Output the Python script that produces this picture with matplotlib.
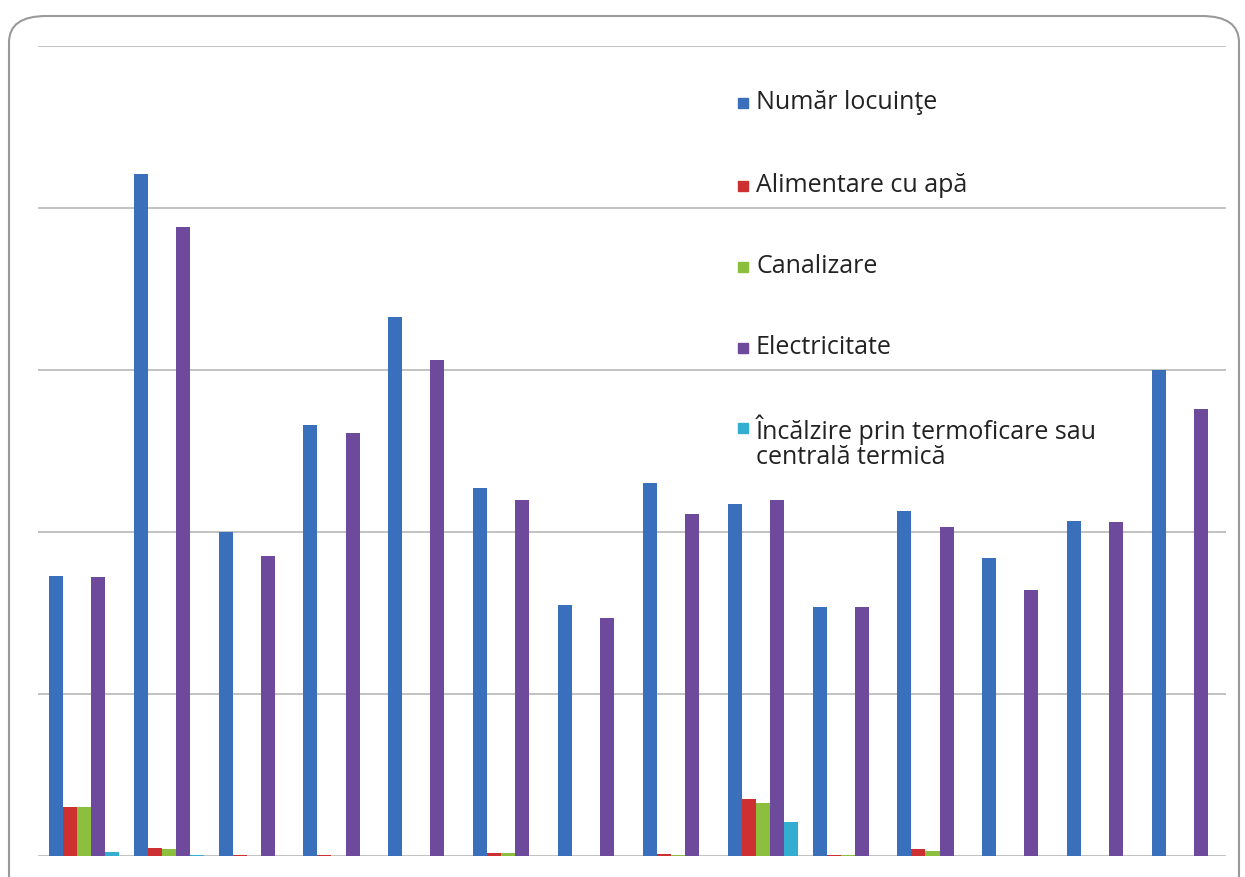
import numpy as np
import matplotlib.pyplot as plt
from matplotlib.patches import FancyBboxPatch, Rectangle

# ----- Data (gridline step = 100) -----
groups = np.arange(14)
series = ["Număr locuinţe", "Alimentare cu apă", "Canalizare",
          "Electricitate", "Încălzire prin termoficare sau\ncentrală termică"]
locuinte = [173, 421, 200, 266, 333, 227, 155, 230, 217, 154, 213, 184, 207, 300]
apa = [30, 5, 0.4, 0.4, 0.3, 2, 0.3, 1.2, 35, 0.8, 4.5, 0.3, 0.3, 0.3]
canalizare = [30, 4.5, 0.3, 0.3, 0.2, 1.6, 0.2, 0.9, 33, 0.5, 3.2, 0.2, 0.2, 0.2]
electricitate = [172, 388, 185, 261, 306, 220, 147, 211, 220, 154, 203, 164, 206, 276]
incalzire = [2.5, 0.8, 0, 0, 0, 0, 0, 0, 21, 0, 0, 0, 0, 0]
values = [locuinte, apa, canalizare, electricitate, incalzire]
colors = ["#3a6fbc", "#cc3030", "#8dbf3f", "#6e4a9c", "#33aed0"]

W, H = 1245, 877
fig = plt.figure(figsize=(W / 100, H / 100), dpi=100)
fig.patch.set_facecolor("white")

# rounded frame around the chart
frame = FancyBboxPatch((9 / W, -0.05), 1230 / W, 1 - 16 / H + 0.05,
                       boxstyle="round,pad=0,rounding_size=0.03",
                       transform=fig.transFigure, fill=False,
                       edgecolor="#9a9a9a", lw=1.5)
fig.patches.append(frame)

ax = fig.add_axes([38 / W, 1 - 856 / H, (1226 - 38) / W, (856 - 46) / H])
ax.set_xlim(-0.5, 13.5)
ax.set_ylim(0, 500)
ax.set_yticks(np.arange(0, 501, 100))
ax.set_xticks([])
ax.tick_params(left=False, labelleft=False)
for s in ax.spines.values():
    s.set_visible(False)
ax.grid(axis="y", color="#b8b8b8", lw=1.2)
ax.set_axisbelow(True)

w = 0.165
for k, (vals, c) in enumerate(zip(values, colors)):
    ax.bar(groups + (k - 1.75) * w, vals, width=w, color=c, zorder=3)

# legend, drawn by hand so the marker sits on the first line
ys = [103, 186, 267, 348, 428]
for lab, c, y in zip(series, colors, ys):
    fig.patches.append(Rectangle((738 / W, 1 - (y + 5) / H), 10 / W, 10 / H,
                                 transform=fig.transFigure, color=c))
    fig.text(756 / W, 1 - (y - 13) / H, lab, fontsize=18, family="Open Sans",
             color="#222222", va="top", ha="left", linespacing=1.0)

fig.savefig("out.png", dpi=100)
